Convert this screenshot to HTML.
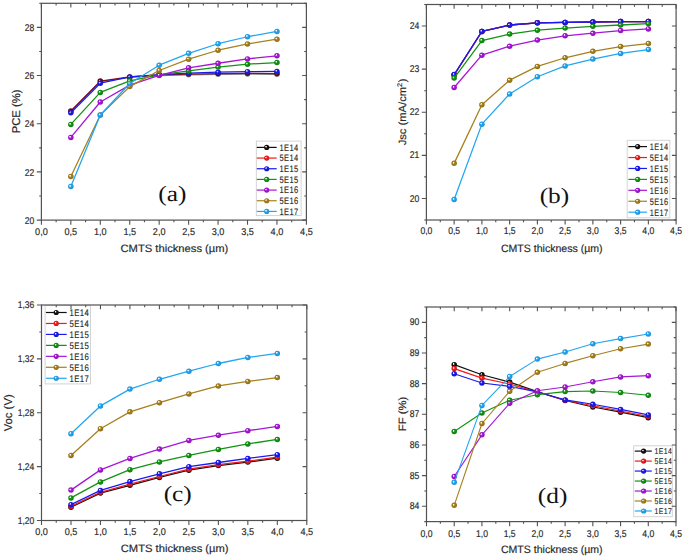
<!DOCTYPE html><html><head><meta charset="utf-8"><title>CMTS thickness plots</title><style>html,body{margin:0;padding:0;background:#fff;}body{width:685px;height:560px;overflow:hidden;}svg{display:block;}text{font-family:"Liberation Sans", sans-serif;text-rendering:geometricPrecision;}.t{stroke:#2a2a2a;stroke-width:0.18px;}</style></head><body><svg width="685" height="560" viewBox="0 0 685 560"><defs><radialGradient id="gk" cx="0.5" cy="0.5" r="0.55" fx="0.34" fy="0.34"><stop offset="0" stop-color="#ffffff" stop-opacity="0.95"/><stop offset="0.12" stop-color="#ffffff" stop-opacity="0.6"/><stop offset="0.38" stop-color="#111111"/><stop offset="1" stop-color="#0e0e0e"/></radialGradient><radialGradient id="gr" cx="0.5" cy="0.5" r="0.55" fx="0.34" fy="0.34"><stop offset="0" stop-color="#ffffff" stop-opacity="0.95"/><stop offset="0.12" stop-color="#ffffff" stop-opacity="0.6"/><stop offset="0.38" stop-color="#f01a1a"/><stop offset="1" stop-color="#cc1616"/></radialGradient><radialGradient id="gb" cx="0.5" cy="0.5" r="0.55" fx="0.34" fy="0.34"><stop offset="0" stop-color="#ffffff" stop-opacity="0.95"/><stop offset="0.12" stop-color="#ffffff" stop-opacity="0.6"/><stop offset="0.38" stop-color="#1a1af0"/><stop offset="1" stop-color="#1616cc"/></radialGradient><radialGradient id="gg" cx="0.5" cy="0.5" r="0.55" fx="0.34" fy="0.34"><stop offset="0" stop-color="#ffffff" stop-opacity="0.95"/><stop offset="0.12" stop-color="#ffffff" stop-opacity="0.6"/><stop offset="0.38" stop-color="#129312"/><stop offset="1" stop-color="#0f7c0f"/></radialGradient><radialGradient id="gm" cx="0.5" cy="0.5" r="0.55" fx="0.34" fy="0.34"><stop offset="0" stop-color="#ffffff" stop-opacity="0.95"/><stop offset="0.12" stop-color="#ffffff" stop-opacity="0.6"/><stop offset="0.38" stop-color="#a616d6"/><stop offset="1" stop-color="#8d12b5"/></radialGradient><radialGradient id="gy" cx="0.5" cy="0.5" r="0.55" fx="0.34" fy="0.34"><stop offset="0" stop-color="#ffffff" stop-opacity="0.95"/><stop offset="0.12" stop-color="#ffffff" stop-opacity="0.6"/><stop offset="0.38" stop-color="#a6801c"/><stop offset="1" stop-color="#8d6c17"/></radialGradient><radialGradient id="gc" cx="0.5" cy="0.5" r="0.55" fx="0.34" fy="0.34"><stop offset="0" stop-color="#ffffff" stop-opacity="0.95"/><stop offset="0.12" stop-color="#ffffff" stop-opacity="0.6"/><stop offset="0.38" stop-color="#22a6f2"/><stop offset="1" stop-color="#1c8dcd"/></radialGradient><radialGradient id="gR2" cx="0.5" cy="0.5" r="0.55" fx="0.36" fy="0.36"><stop offset="0" stop-color="#ffffff" stop-opacity="0.9"/><stop offset="0.25" stop-color="#b01020"/><stop offset="1" stop-color="#8a0c18"/></radialGradient></defs><rect width="685" height="560" fill="#fff"/><g><polyline points="70.84,110.95 100.29,81.08 129.73,76.98 159.18,74.81 188.62,74.09 218.07,73.61 247.51,73.37 276.96,73.61" fill="none" stroke="#b01020" stroke-width="1.28" stroke-linejoin="round"/><circle cx="70.84" cy="110.95" r="2.75" fill="url(#gR2)"/><circle cx="100.29" cy="81.08" r="2.75" fill="url(#gR2)"/><circle cx="129.73" cy="76.98" r="2.75" fill="url(#gR2)"/><circle cx="159.18" cy="74.81" r="2.75" fill="url(#gR2)"/><circle cx="188.62" cy="74.09" r="2.75" fill="url(#gR2)"/><circle cx="218.07" cy="73.61" r="2.75" fill="url(#gR2)"/><circle cx="247.51" cy="73.37" r="2.75" fill="url(#gR2)"/><circle cx="276.96" cy="73.61" r="2.75" fill="url(#gR2)"/></g><g opacity="0.5"><polyline points="70.84,111.43 100.29,81.56 129.73,77.46 159.18,75.53 188.62,74.81 218.07,74.33 247.51,74.09 276.96,74.33" fill="none" stroke="#111111" stroke-width="1.28" stroke-linejoin="round"/><circle cx="70.84" cy="111.43" r="2.75" fill="url(#gk)"/><circle cx="100.29" cy="81.56" r="2.75" fill="url(#gk)"/><circle cx="129.73" cy="77.46" r="2.75" fill="url(#gk)"/><circle cx="159.18" cy="75.53" r="2.75" fill="url(#gk)"/><circle cx="188.62" cy="74.81" r="2.75" fill="url(#gk)"/><circle cx="218.07" cy="74.33" r="2.75" fill="url(#gk)"/><circle cx="247.51" cy="74.09" r="2.75" fill="url(#gk)"/><circle cx="276.96" cy="74.33" r="2.75" fill="url(#gk)"/></g><g><polyline points="70.84,112.87 100.29,83.24 129.73,76.98 159.18,74.57 188.62,73.13 218.07,72.16 247.51,71.68 276.96,71.44" fill="none" stroke="#1a1af0" stroke-width="1.28" stroke-linejoin="round"/><circle cx="70.84" cy="112.87" r="2.75" fill="url(#gb)"/><circle cx="100.29" cy="83.24" r="2.75" fill="url(#gb)"/><circle cx="129.73" cy="76.98" r="2.75" fill="url(#gb)"/><circle cx="159.18" cy="74.57" r="2.75" fill="url(#gb)"/><circle cx="188.62" cy="73.13" r="2.75" fill="url(#gb)"/><circle cx="218.07" cy="72.16" r="2.75" fill="url(#gb)"/><circle cx="247.51" cy="71.68" r="2.75" fill="url(#gb)"/><circle cx="276.96" cy="71.44" r="2.75" fill="url(#gb)"/></g><g><polyline points="70.84,124.44 100.29,92.4 129.73,80.83 159.18,74.81 188.62,70.96 218.07,67.1 247.51,64.21 276.96,62.53" fill="none" stroke="#129312" stroke-width="1.28" stroke-linejoin="round"/><circle cx="70.84" cy="124.44" r="2.75" fill="url(#gg)"/><circle cx="100.29" cy="92.4" r="2.75" fill="url(#gg)"/><circle cx="129.73" cy="80.83" r="2.75" fill="url(#gg)"/><circle cx="159.18" cy="74.81" r="2.75" fill="url(#gg)"/><circle cx="188.62" cy="70.96" r="2.75" fill="url(#gg)"/><circle cx="218.07" cy="67.1" r="2.75" fill="url(#gg)"/><circle cx="247.51" cy="64.21" r="2.75" fill="url(#gg)"/><circle cx="276.96" cy="62.53" r="2.75" fill="url(#gg)"/></g><g><polyline points="70.84,137.44 100.29,102.03 129.73,85.17 159.18,75.29 188.62,67.83 218.07,63.25 247.51,58.91 276.96,55.78" fill="none" stroke="#a616d6" stroke-width="1.28" stroke-linejoin="round"/><circle cx="70.84" cy="137.44" r="2.75" fill="url(#gm)"/><circle cx="100.29" cy="102.03" r="2.75" fill="url(#gm)"/><circle cx="129.73" cy="85.17" r="2.75" fill="url(#gm)"/><circle cx="159.18" cy="75.29" r="2.75" fill="url(#gm)"/><circle cx="188.62" cy="67.83" r="2.75" fill="url(#gm)"/><circle cx="218.07" cy="63.25" r="2.75" fill="url(#gm)"/><circle cx="247.51" cy="58.91" r="2.75" fill="url(#gm)"/><circle cx="276.96" cy="55.78" r="2.75" fill="url(#gm)"/></g><g><polyline points="70.84,176.47 100.29,115.04 129.73,86.62 159.18,70.48 188.62,59.15 218.07,50.24 247.51,43.98 276.96,39.16" fill="none" stroke="#a6801c" stroke-width="1.28" stroke-linejoin="round"/><circle cx="70.84" cy="176.47" r="2.75" fill="url(#gy)"/><circle cx="100.29" cy="115.04" r="2.75" fill="url(#gy)"/><circle cx="129.73" cy="86.62" r="2.75" fill="url(#gy)"/><circle cx="159.18" cy="70.48" r="2.75" fill="url(#gy)"/><circle cx="188.62" cy="59.15" r="2.75" fill="url(#gy)"/><circle cx="218.07" cy="50.24" r="2.75" fill="url(#gy)"/><circle cx="247.51" cy="43.98" r="2.75" fill="url(#gy)"/><circle cx="276.96" cy="39.16" r="2.75" fill="url(#gy)"/></g><g><polyline points="70.84,186.58 100.29,115.04 129.73,83.48 159.18,65.18 188.62,53.37 218.07,43.74 247.51,36.75 276.96,31.45" fill="none" stroke="#22a6f2" stroke-width="1.28" stroke-linejoin="round"/><circle cx="70.84" cy="186.58" r="2.75" fill="url(#gc)"/><circle cx="100.29" cy="115.04" r="2.75" fill="url(#gc)"/><circle cx="129.73" cy="83.48" r="2.75" fill="url(#gc)"/><circle cx="159.18" cy="65.18" r="2.75" fill="url(#gc)"/><circle cx="188.62" cy="53.37" r="2.75" fill="url(#gc)"/><circle cx="218.07" cy="43.74" r="2.75" fill="url(#gc)"/><circle cx="247.51" cy="36.75" r="2.75" fill="url(#gc)"/><circle cx="276.96" cy="31.45" r="2.75" fill="url(#gc)"/></g><rect x="256.3" y="141.1" width="44.8" height="74.5" fill="#fff" stroke="#cfcfcf" stroke-width="0.9"/><line x1="256.8" y1="147.4" x2="276.7" y2="147.4" stroke="#111111" stroke-width="1.2"/><circle cx="266.7" cy="147.4" r="2.6" fill="url(#gk)"/><text x="0" y="0" font-size="9.5" fill="#2a2a2a" stroke="#2a2a2a" stroke-width="0.15" letter-spacing="0.55" transform="translate(279.4 150.72) scale(0.7905 1)">1E14</text><line x1="256.8" y1="158.07" x2="276.7" y2="158.07" stroke="#f01a1a" stroke-width="1.2"/><circle cx="266.7" cy="158.07" r="2.6" fill="url(#gr)"/><text x="0" y="0" font-size="9.5" fill="#2a2a2a" stroke="#2a2a2a" stroke-width="0.15" letter-spacing="0.55" transform="translate(279.4 161.39) scale(0.7905 1)">5E14</text><line x1="256.8" y1="168.74" x2="276.7" y2="168.74" stroke="#1a1af0" stroke-width="1.2"/><circle cx="266.7" cy="168.74" r="2.6" fill="url(#gb)"/><text x="0" y="0" font-size="9.5" fill="#2a2a2a" stroke="#2a2a2a" stroke-width="0.15" letter-spacing="0.55" transform="translate(279.4 172.06) scale(0.7905 1)">1E15</text><line x1="256.8" y1="179.41" x2="276.7" y2="179.41" stroke="#129312" stroke-width="1.2"/><circle cx="266.7" cy="179.41" r="2.6" fill="url(#gg)"/><text x="0" y="0" font-size="9.5" fill="#2a2a2a" stroke="#2a2a2a" stroke-width="0.15" letter-spacing="0.55" transform="translate(279.4 182.73) scale(0.7905 1)">5E15</text><line x1="256.8" y1="190.08" x2="276.7" y2="190.08" stroke="#a616d6" stroke-width="1.2"/><circle cx="266.7" cy="190.08" r="2.6" fill="url(#gm)"/><text x="0" y="0" font-size="9.5" fill="#2a2a2a" stroke="#2a2a2a" stroke-width="0.15" letter-spacing="0.55" transform="translate(279.4 193.41) scale(0.7905 1)">1E16</text><line x1="256.8" y1="200.75" x2="276.7" y2="200.75" stroke="#a6801c" stroke-width="1.2"/><circle cx="266.7" cy="200.75" r="2.6" fill="url(#gy)"/><text x="0" y="0" font-size="9.5" fill="#2a2a2a" stroke="#2a2a2a" stroke-width="0.15" letter-spacing="0.55" transform="translate(279.4 204.07) scale(0.7905 1)">5E16</text><line x1="256.8" y1="211.42" x2="276.7" y2="211.42" stroke="#22a6f2" stroke-width="1.2"/><circle cx="266.7" cy="211.42" r="2.6" fill="url(#gc)"/><text x="0" y="0" font-size="9.5" fill="#2a2a2a" stroke="#2a2a2a" stroke-width="0.15" letter-spacing="0.55" transform="translate(279.4 214.75) scale(0.7905 1)">1E17</text><rect x="41.4" y="3.3" width="265" height="216.8" fill="none" stroke="#525252" stroke-width="1.2"/><path d="M41.4 220.1v4.6M41.4 3.3v4.2M70.84 220.1v4.6M70.84 3.3v4.2M100.29 220.1v4.6M100.29 3.3v4.2M129.73 220.1v4.6M129.73 3.3v4.2M159.18 220.1v4.6M159.18 3.3v4.2M188.62 220.1v4.6M188.62 3.3v4.2M218.07 220.1v4.6M218.07 3.3v4.2M247.51 220.1v4.6M247.51 3.3v4.2M276.96 220.1v4.6M276.96 3.3v4.2M306.4 220.1v4.6M306.4 3.3v4.2M56.12 220.1v2.2M56.12 3.3v2.2M85.57 220.1v2.2M85.57 3.3v2.2M115.01 220.1v2.2M115.01 3.3v2.2M144.46 220.1v2.2M144.46 3.3v2.2M173.9 220.1v2.2M173.9 3.3v2.2M203.34 220.1v2.2M203.34 3.3v2.2M232.79 220.1v2.2M232.79 3.3v2.2M262.23 220.1v2.2M262.23 3.3v2.2M291.68 220.1v2.2M291.68 3.3v2.2M41.4 220.1h-4.6M306.4 220.1h-4.2M41.4 171.92h-4.6M306.4 171.92h-4.2M41.4 123.74h-4.6M306.4 123.74h-4.2M41.4 75.57h-4.6M306.4 75.57h-4.2M41.4 27.39h-4.6M306.4 27.39h-4.2M41.4 196.01h-2.2M306.4 196.01h-2.2M41.4 147.83h-2.2M306.4 147.83h-2.2M41.4 99.66h-2.2M306.4 99.66h-2.2M41.4 51.48h-2.2M306.4 51.48h-2.2M41.4 3.3h-2.2M306.4 3.3h-2.2" stroke="#525252" stroke-width="1.1" fill="none"/><text class="t" x="0" y="234.7" font-size="9.8" fill="#2a2a2a" text-anchor="middle" transform="translate(41.4 0) scale(0.93 1)">0,0</text><text class="t" x="0" y="234.7" font-size="9.8" fill="#2a2a2a" text-anchor="middle" transform="translate(70.84 0) scale(0.93 1)">0,5</text><text class="t" x="0" y="234.7" font-size="9.8" fill="#2a2a2a" text-anchor="middle" transform="translate(100.29 0) scale(0.93 1)">1,0</text><text class="t" x="0" y="234.7" font-size="9.8" fill="#2a2a2a" text-anchor="middle" transform="translate(129.73 0) scale(0.93 1)">1,5</text><text class="t" x="0" y="234.7" font-size="9.8" fill="#2a2a2a" text-anchor="middle" transform="translate(159.18 0) scale(0.93 1)">2,0</text><text class="t" x="0" y="234.7" font-size="9.8" fill="#2a2a2a" text-anchor="middle" transform="translate(188.62 0) scale(0.93 1)">2,5</text><text class="t" x="0" y="234.7" font-size="9.8" fill="#2a2a2a" text-anchor="middle" transform="translate(218.07 0) scale(0.93 1)">3,0</text><text class="t" x="0" y="234.7" font-size="9.8" fill="#2a2a2a" text-anchor="middle" transform="translate(247.51 0) scale(0.93 1)">3,5</text><text class="t" x="0" y="234.7" font-size="9.8" fill="#2a2a2a" text-anchor="middle" transform="translate(276.96 0) scale(0.93 1)">4,0</text><text class="t" x="0" y="234.7" font-size="9.8" fill="#2a2a2a" text-anchor="middle" transform="translate(306.4 0) scale(0.93 1)">4,5</text><text class="t" x="0" y="223.7" font-size="9.8" fill="#2a2a2a" text-anchor="end" transform="translate(34.3 0) scale(0.875 1)">20</text><text class="t" x="0" y="175.52" font-size="9.8" fill="#2a2a2a" text-anchor="end" transform="translate(34.3 0) scale(0.875 1)">22</text><text class="t" x="0" y="127.34" font-size="9.8" fill="#2a2a2a" text-anchor="end" transform="translate(34.3 0) scale(0.875 1)">24</text><text class="t" x="0" y="79.17" font-size="9.8" fill="#2a2a2a" text-anchor="end" transform="translate(34.3 0) scale(0.875 1)">26</text><text class="t" x="0" y="30.99" font-size="9.8" fill="#2a2a2a" text-anchor="end" transform="translate(34.3 0) scale(0.875 1)">28</text><text class="t" x="0" y="252.1" font-size="10.7" fill="#2a2a2a" text-anchor="middle" transform="translate(174.4 0) scale(1.0473 1)">CMTS thickness (µm)</text><text class="t" x="0" y="0" font-size="11.3" fill="#2a2a2a" text-anchor="middle" transform="translate(20.1 111.4) scale(1.0 1) rotate(-90)">PCE (%)</text><text x="0" y="0" font-size="22" fill="#111" text-anchor="middle" style="font-family:'Liberation Serif', serif" transform="translate(172.4 201) scale(1.15 1)">(a)</text><g><polyline points="454.14,75 481.89,31.47 509.63,25.01 537.38,22.85 565.12,22.42 592.87,21.99 620.61,21.56 648.36,21.56" fill="none" stroke="#111111" stroke-width="1.28" stroke-linejoin="round"/><circle cx="454.14" cy="75" r="2.75" fill="url(#gk)"/><circle cx="481.89" cy="31.47" r="2.75" fill="url(#gk)"/><circle cx="509.63" cy="25.01" r="2.75" fill="url(#gk)"/><circle cx="537.38" cy="22.85" r="2.75" fill="url(#gk)"/><circle cx="565.12" cy="22.42" r="2.75" fill="url(#gk)"/><circle cx="592.87" cy="21.99" r="2.75" fill="url(#gk)"/><circle cx="620.61" cy="21.56" r="2.75" fill="url(#gk)"/><circle cx="648.36" cy="21.56" r="2.75" fill="url(#gk)"/></g><g><polyline points="454.14,75 481.89,31.47 509.63,25.01 537.38,22.85 565.12,22.42 592.87,21.99 620.61,21.56 648.36,21.56" fill="none" stroke="#f01a1a" stroke-width="1.28" stroke-linejoin="round"/><circle cx="454.14" cy="75" r="2.75" fill="url(#gr)"/><circle cx="481.89" cy="31.47" r="2.75" fill="url(#gr)"/><circle cx="509.63" cy="25.01" r="2.75" fill="url(#gr)"/><circle cx="537.38" cy="22.85" r="2.75" fill="url(#gr)"/><circle cx="565.12" cy="22.42" r="2.75" fill="url(#gr)"/><circle cx="592.87" cy="21.99" r="2.75" fill="url(#gr)"/><circle cx="620.61" cy="21.56" r="2.75" fill="url(#gr)"/><circle cx="648.36" cy="21.56" r="2.75" fill="url(#gr)"/></g><g><polyline points="454.14,74.57 481.89,31.47 509.63,25.01 537.38,22.85 565.12,22.42 592.87,21.99 620.61,21.56 648.36,21.56" fill="none" stroke="#1a1af0" stroke-width="1.28" stroke-linejoin="round"/><circle cx="454.14" cy="74.57" r="2.75" fill="url(#gb)"/><circle cx="481.89" cy="31.47" r="2.75" fill="url(#gb)"/><circle cx="509.63" cy="25.01" r="2.75" fill="url(#gb)"/><circle cx="537.38" cy="22.85" r="2.75" fill="url(#gb)"/><circle cx="565.12" cy="22.42" r="2.75" fill="url(#gb)"/><circle cx="592.87" cy="21.99" r="2.75" fill="url(#gb)"/><circle cx="620.61" cy="21.56" r="2.75" fill="url(#gb)"/><circle cx="648.36" cy="21.56" r="2.75" fill="url(#gb)"/></g><g><polyline points="454.14,78.02 481.89,40.52 509.63,34.06 537.38,30.18 565.12,28.02 592.87,26.3 620.61,25.01 648.36,23.71" fill="none" stroke="#129312" stroke-width="1.28" stroke-linejoin="round"/><circle cx="454.14" cy="78.02" r="2.75" fill="url(#gg)"/><circle cx="481.89" cy="40.52" r="2.75" fill="url(#gg)"/><circle cx="509.63" cy="34.06" r="2.75" fill="url(#gg)"/><circle cx="537.38" cy="30.18" r="2.75" fill="url(#gg)"/><circle cx="565.12" cy="28.02" r="2.75" fill="url(#gg)"/><circle cx="592.87" cy="26.3" r="2.75" fill="url(#gg)"/><circle cx="620.61" cy="25.01" r="2.75" fill="url(#gg)"/><circle cx="648.36" cy="23.71" r="2.75" fill="url(#gg)"/></g><g><polyline points="454.14,87.5 481.89,55.18 509.63,46.13 537.38,40.09 565.12,35.78 592.87,33.2 620.61,30.61 648.36,28.89" fill="none" stroke="#a616d6" stroke-width="1.28" stroke-linejoin="round"/><circle cx="454.14" cy="87.5" r="2.75" fill="url(#gm)"/><circle cx="481.89" cy="55.18" r="2.75" fill="url(#gm)"/><circle cx="509.63" cy="46.13" r="2.75" fill="url(#gm)"/><circle cx="537.38" cy="40.09" r="2.75" fill="url(#gm)"/><circle cx="565.12" cy="35.78" r="2.75" fill="url(#gm)"/><circle cx="592.87" cy="33.2" r="2.75" fill="url(#gm)"/><circle cx="620.61" cy="30.61" r="2.75" fill="url(#gm)"/><circle cx="648.36" cy="28.89" r="2.75" fill="url(#gm)"/></g><g><polyline points="454.14,163.36 481.89,104.74 509.63,80.18 537.38,66.38 565.12,57.76 592.87,51.3 620.61,46.56 648.36,43.54" fill="none" stroke="#a6801c" stroke-width="1.28" stroke-linejoin="round"/><circle cx="454.14" cy="163.36" r="2.75" fill="url(#gy)"/><circle cx="481.89" cy="104.74" r="2.75" fill="url(#gy)"/><circle cx="509.63" cy="80.18" r="2.75" fill="url(#gy)"/><circle cx="537.38" cy="66.38" r="2.75" fill="url(#gy)"/><circle cx="565.12" cy="57.76" r="2.75" fill="url(#gy)"/><circle cx="592.87" cy="51.3" r="2.75" fill="url(#gy)"/><circle cx="620.61" cy="46.56" r="2.75" fill="url(#gy)"/><circle cx="648.36" cy="43.54" r="2.75" fill="url(#gy)"/></g><g><polyline points="454.14,199.56 481.89,124.14 509.63,93.97 537.38,76.73 565.12,65.95 592.87,59.06 620.61,53.45 648.36,49.57" fill="none" stroke="#22a6f2" stroke-width="1.28" stroke-linejoin="round"/><circle cx="454.14" cy="199.56" r="2.75" fill="url(#gc)"/><circle cx="481.89" cy="124.14" r="2.75" fill="url(#gc)"/><circle cx="509.63" cy="93.97" r="2.75" fill="url(#gc)"/><circle cx="537.38" cy="76.73" r="2.75" fill="url(#gc)"/><circle cx="565.12" cy="65.95" r="2.75" fill="url(#gc)"/><circle cx="592.87" cy="59.06" r="2.75" fill="url(#gc)"/><circle cx="620.61" cy="53.45" r="2.75" fill="url(#gc)"/><circle cx="648.36" cy="49.57" r="2.75" fill="url(#gc)"/></g><rect x="627.2" y="140.3" width="42.6" height="77.5" fill="#fff" stroke="#cfcfcf" stroke-width="0.9"/><line x1="628.4" y1="146.6" x2="647" y2="146.6" stroke="#111111" stroke-width="1.2"/><circle cx="637.7" cy="146.6" r="2.6" fill="url(#gk)"/><text x="0" y="0" font-size="9.5" fill="#2a2a2a" stroke="#2a2a2a" stroke-width="0.15" letter-spacing="0.55" transform="translate(649.8 149.92) scale(0.7719 1)">1E14</text><line x1="628.4" y1="157.53" x2="647" y2="157.53" stroke="#f01a1a" stroke-width="1.2"/><circle cx="637.7" cy="157.53" r="2.6" fill="url(#gr)"/><text x="0" y="0" font-size="9.5" fill="#2a2a2a" stroke="#2a2a2a" stroke-width="0.15" letter-spacing="0.55" transform="translate(649.8 160.85) scale(0.7719 1)">5E14</text><line x1="628.4" y1="168.46" x2="647" y2="168.46" stroke="#1a1af0" stroke-width="1.2"/><circle cx="637.7" cy="168.46" r="2.6" fill="url(#gb)"/><text x="0" y="0" font-size="9.5" fill="#2a2a2a" stroke="#2a2a2a" stroke-width="0.15" letter-spacing="0.55" transform="translate(649.8 171.78) scale(0.7719 1)">1E15</text><line x1="628.4" y1="179.39" x2="647" y2="179.39" stroke="#129312" stroke-width="1.2"/><circle cx="637.7" cy="179.39" r="2.6" fill="url(#gg)"/><text x="0" y="0" font-size="9.5" fill="#2a2a2a" stroke="#2a2a2a" stroke-width="0.15" letter-spacing="0.55" transform="translate(649.8 182.71) scale(0.7719 1)">5E15</text><line x1="628.4" y1="190.32" x2="647" y2="190.32" stroke="#a616d6" stroke-width="1.2"/><circle cx="637.7" cy="190.32" r="2.6" fill="url(#gm)"/><text x="0" y="0" font-size="9.5" fill="#2a2a2a" stroke="#2a2a2a" stroke-width="0.15" letter-spacing="0.55" transform="translate(649.8 193.64) scale(0.7719 1)">1E16</text><line x1="628.4" y1="201.25" x2="647" y2="201.25" stroke="#a6801c" stroke-width="1.2"/><circle cx="637.7" cy="201.25" r="2.6" fill="url(#gy)"/><text x="0" y="0" font-size="9.5" fill="#2a2a2a" stroke="#2a2a2a" stroke-width="0.15" letter-spacing="0.55" transform="translate(649.8 204.57) scale(0.7719 1)">5E16</text><line x1="628.4" y1="212.18" x2="647" y2="212.18" stroke="#22a6f2" stroke-width="1.2"/><circle cx="637.7" cy="212.18" r="2.6" fill="url(#gc)"/><text x="0" y="0" font-size="9.5" fill="#2a2a2a" stroke="#2a2a2a" stroke-width="0.15" letter-spacing="0.55" transform="translate(649.8 215.5) scale(0.7719 1)">1E17</text><rect x="426.4" y="4.5" width="249.7" height="215.5" fill="none" stroke="#525252" stroke-width="1.2"/><path d="M426.4 220v4.6M426.4 4.5v4.2M454.14 220v4.6M454.14 4.5v4.2M481.89 220v4.6M481.89 4.5v4.2M509.63 220v4.6M509.63 4.5v4.2M537.38 220v4.6M537.38 4.5v4.2M565.12 220v4.6M565.12 4.5v4.2M592.87 220v4.6M592.87 4.5v4.2M620.61 220v4.6M620.61 4.5v4.2M648.36 220v4.6M648.36 4.5v4.2M676.1 220v4.6M676.1 4.5v4.2M440.27 220v2.2M440.27 4.5v2.2M468.02 220v2.2M468.02 4.5v2.2M495.76 220v2.2M495.76 4.5v2.2M523.51 220v2.2M523.51 4.5v2.2M551.25 220v2.2M551.25 4.5v2.2M578.99 220v2.2M578.99 4.5v2.2M606.74 220v2.2M606.74 4.5v2.2M634.48 220v2.2M634.48 4.5v2.2M662.23 220v2.2M662.23 4.5v2.2M426.4 198.45h-4.6M676.1 198.45h-4.2M426.4 155.35h-4.6M676.1 155.35h-4.2M426.4 112.25h-4.6M676.1 112.25h-4.2M426.4 69.15h-4.6M676.1 69.15h-4.2M426.4 26.05h-4.6M676.1 26.05h-4.2M426.4 220h-2.2M676.1 220h-2.2M426.4 176.9h-2.2M676.1 176.9h-2.2M426.4 133.8h-2.2M676.1 133.8h-2.2M426.4 90.7h-2.2M676.1 90.7h-2.2M426.4 47.6h-2.2M676.1 47.6h-2.2M426.4 4.5h-2.2M676.1 4.5h-2.2" stroke="#525252" stroke-width="1.1" fill="none"/><text class="t" x="0" y="234.1" font-size="9.8" fill="#2a2a2a" text-anchor="middle" transform="translate(426.4 0) scale(0.88 1)">0,0</text><text class="t" x="0" y="234.1" font-size="9.8" fill="#2a2a2a" text-anchor="middle" transform="translate(454.14 0) scale(0.88 1)">0,5</text><text class="t" x="0" y="234.1" font-size="9.8" fill="#2a2a2a" text-anchor="middle" transform="translate(481.89 0) scale(0.88 1)">1,0</text><text class="t" x="0" y="234.1" font-size="9.8" fill="#2a2a2a" text-anchor="middle" transform="translate(509.63 0) scale(0.88 1)">1,5</text><text class="t" x="0" y="234.1" font-size="9.8" fill="#2a2a2a" text-anchor="middle" transform="translate(537.38 0) scale(0.88 1)">2,0</text><text class="t" x="0" y="234.1" font-size="9.8" fill="#2a2a2a" text-anchor="middle" transform="translate(565.12 0) scale(0.88 1)">2,5</text><text class="t" x="0" y="234.1" font-size="9.8" fill="#2a2a2a" text-anchor="middle" transform="translate(592.87 0) scale(0.88 1)">3,0</text><text class="t" x="0" y="234.1" font-size="9.8" fill="#2a2a2a" text-anchor="middle" transform="translate(620.61 0) scale(0.88 1)">3,5</text><text class="t" x="0" y="234.1" font-size="9.8" fill="#2a2a2a" text-anchor="middle" transform="translate(648.36 0) scale(0.88 1)">4,0</text><text class="t" x="0" y="234.1" font-size="9.8" fill="#2a2a2a" text-anchor="middle" transform="translate(676.1 0) scale(0.88 1)">4,5</text><text class="t" x="0" y="201.55" font-size="9.8" fill="#2a2a2a" text-anchor="end" transform="translate(419.3 0) scale(0.88 1)">20</text><text class="t" x="0" y="158.45" font-size="9.8" fill="#2a2a2a" text-anchor="end" transform="translate(419.3 0) scale(0.88 1)">21</text><text class="t" x="0" y="115.35" font-size="9.8" fill="#2a2a2a" text-anchor="end" transform="translate(419.3 0) scale(0.88 1)">22</text><text class="t" x="0" y="72.25" font-size="9.8" fill="#2a2a2a" text-anchor="end" transform="translate(419.3 0) scale(0.88 1)">23</text><text class="t" x="0" y="29.15" font-size="9.8" fill="#2a2a2a" text-anchor="end" transform="translate(419.3 0) scale(0.88 1)">24</text><text class="t" x="0" y="251.6" font-size="10.7" fill="#2a2a2a" text-anchor="middle" transform="translate(551.75 0) scale(0.988 1)">CMTS thickness (µm)</text><text class="t" x="0" y="0" font-size="11.2" fill="#2a2a2a" text-anchor="middle" transform="translate(405.8 111.9) scale(0.94 1) rotate(-90)">Jsc (mA/cm<tspan font-size="7.2" dy="-4.3">2</tspan><tspan dy="4.3" dx="0.8">)</tspan></text><text x="0" y="0" font-size="22" fill="#111" text-anchor="middle" style="font-family:'Liberation Serif', serif" transform="translate(554.4 203) scale(1.15 1)">(b)</text><g><polyline points="70.98,507.21 100.46,493.07 129.93,485.26 159.41,477.45 188.89,470.17 218.37,465.59 247.84,462.09 277.32,458.19" fill="none" stroke="#111111" stroke-width="1.28" stroke-linejoin="round"/><circle cx="70.98" cy="507.21" r="2.75" fill="url(#gk)"/><circle cx="100.46" cy="493.07" r="2.75" fill="url(#gk)"/><circle cx="129.93" cy="485.26" r="2.75" fill="url(#gk)"/><circle cx="159.41" cy="477.45" r="2.75" fill="url(#gk)"/><circle cx="188.89" cy="470.17" r="2.75" fill="url(#gk)"/><circle cx="218.37" cy="465.59" r="2.75" fill="url(#gk)"/><circle cx="247.84" cy="462.09" r="2.75" fill="url(#gk)"/><circle cx="277.32" cy="458.19" r="2.75" fill="url(#gk)"/></g><g><polyline points="70.98,506.4 100.46,492.26 129.93,484.05 159.41,476.5 188.89,469.23 218.37,464.65 247.84,461.15 277.32,457.24" fill="none" stroke="#f01a1a" stroke-width="1.28" stroke-linejoin="round"/><circle cx="70.98" cy="506.4" r="2.75" fill="url(#gr)"/><circle cx="100.46" cy="492.26" r="2.75" fill="url(#gr)"/><circle cx="129.93" cy="484.05" r="2.75" fill="url(#gr)"/><circle cx="159.41" cy="476.5" r="2.75" fill="url(#gr)"/><circle cx="188.89" cy="469.23" r="2.75" fill="url(#gr)"/><circle cx="218.37" cy="464.65" r="2.75" fill="url(#gr)"/><circle cx="247.84" cy="461.15" r="2.75" fill="url(#gr)"/><circle cx="277.32" cy="457.24" r="2.75" fill="url(#gr)"/></g><g><polyline points="70.98,504.65 100.46,490.38 129.93,481.62 159.41,473.81 188.89,466.67 218.37,462.5 247.84,458.46 277.32,454.68" fill="none" stroke="#1a1af0" stroke-width="1.28" stroke-linejoin="round"/><circle cx="70.98" cy="504.65" r="2.75" fill="url(#gb)"/><circle cx="100.46" cy="490.38" r="2.75" fill="url(#gb)"/><circle cx="129.93" cy="481.62" r="2.75" fill="url(#gb)"/><circle cx="159.41" cy="473.81" r="2.75" fill="url(#gb)"/><circle cx="188.89" cy="466.67" r="2.75" fill="url(#gb)"/><circle cx="218.37" cy="462.5" r="2.75" fill="url(#gb)"/><circle cx="247.84" cy="458.46" r="2.75" fill="url(#gb)"/><circle cx="277.32" cy="454.68" r="2.75" fill="url(#gb)"/></g><g><polyline points="70.98,497.92 100.46,481.89 129.93,469.63 159.41,461.96 188.89,455.49 218.37,449.43 247.84,443.91 277.32,439.46" fill="none" stroke="#129312" stroke-width="1.28" stroke-linejoin="round"/><circle cx="70.98" cy="497.92" r="2.75" fill="url(#gg)"/><circle cx="100.46" cy="481.89" r="2.75" fill="url(#gg)"/><circle cx="129.93" cy="469.63" r="2.75" fill="url(#gg)"/><circle cx="159.41" cy="461.96" r="2.75" fill="url(#gg)"/><circle cx="188.89" cy="455.49" r="2.75" fill="url(#gg)"/><circle cx="218.37" cy="449.43" r="2.75" fill="url(#gg)"/><circle cx="247.84" cy="443.91" r="2.75" fill="url(#gg)"/><circle cx="277.32" cy="439.46" r="2.75" fill="url(#gg)"/></g><g><polyline points="70.98,490.11 100.46,469.9 129.93,458.46 159.41,449.03 188.89,440.41 218.37,435.15 247.84,430.71 277.32,426.4" fill="none" stroke="#a616d6" stroke-width="1.28" stroke-linejoin="round"/><circle cx="70.98" cy="490.11" r="2.75" fill="url(#gm)"/><circle cx="100.46" cy="469.9" r="2.75" fill="url(#gm)"/><circle cx="129.93" cy="458.46" r="2.75" fill="url(#gm)"/><circle cx="159.41" cy="449.03" r="2.75" fill="url(#gm)"/><circle cx="188.89" cy="440.41" r="2.75" fill="url(#gm)"/><circle cx="218.37" cy="435.15" r="2.75" fill="url(#gm)"/><circle cx="247.84" cy="430.71" r="2.75" fill="url(#gm)"/><circle cx="277.32" cy="426.4" r="2.75" fill="url(#gm)"/></g><g><polyline points="70.98,455.49 100.46,428.69 129.93,411.85 159.41,402.69 188.89,393.94 218.37,385.99 247.84,381.41 277.32,377.51" fill="none" stroke="#a6801c" stroke-width="1.28" stroke-linejoin="round"/><circle cx="70.98" cy="455.49" r="2.75" fill="url(#gy)"/><circle cx="100.46" cy="428.69" r="2.75" fill="url(#gy)"/><circle cx="129.93" cy="411.85" r="2.75" fill="url(#gy)"/><circle cx="159.41" cy="402.69" r="2.75" fill="url(#gy)"/><circle cx="188.89" cy="393.94" r="2.75" fill="url(#gy)"/><circle cx="218.37" cy="385.99" r="2.75" fill="url(#gy)"/><circle cx="247.84" cy="381.41" r="2.75" fill="url(#gy)"/><circle cx="277.32" cy="377.51" r="2.75" fill="url(#gy)"/></g><g><polyline points="70.98,433.67 100.46,405.93 129.93,389.09 159.41,379.26 188.89,371.18 218.37,363.5 247.84,357.44 277.32,353.4" fill="none" stroke="#22a6f2" stroke-width="1.28" stroke-linejoin="round"/><circle cx="70.98" cy="433.67" r="2.75" fill="url(#gc)"/><circle cx="100.46" cy="405.93" r="2.75" fill="url(#gc)"/><circle cx="129.93" cy="389.09" r="2.75" fill="url(#gc)"/><circle cx="159.41" cy="379.26" r="2.75" fill="url(#gc)"/><circle cx="188.89" cy="371.18" r="2.75" fill="url(#gc)"/><circle cx="218.37" cy="363.5" r="2.75" fill="url(#gc)"/><circle cx="247.84" cy="357.44" r="2.75" fill="url(#gc)"/><circle cx="277.32" cy="353.4" r="2.75" fill="url(#gc)"/></g><rect x="45.1" y="305.6" width="45.4" height="78.3" fill="#fff" stroke="#cfcfcf" stroke-width="0.9"/><line x1="45.9" y1="312.5" x2="66.7" y2="312.5" stroke="#111111" stroke-width="1.2"/><circle cx="56.2" cy="312.5" r="2.6" fill="url(#gk)"/><text x="0" y="0" font-size="9.6" fill="#2a2a2a" stroke="#2a2a2a" stroke-width="0.15" letter-spacing="0.55" transform="translate(69.4 315.86) scale(0.8091 1)">1E14</text><line x1="45.9" y1="323.46" x2="66.7" y2="323.46" stroke="#f01a1a" stroke-width="1.2"/><circle cx="56.2" cy="323.46" r="2.6" fill="url(#gr)"/><text x="0" y="0" font-size="9.6" fill="#2a2a2a" stroke="#2a2a2a" stroke-width="0.15" letter-spacing="0.55" transform="translate(69.4 326.82) scale(0.8091 1)">5E14</text><line x1="45.9" y1="334.42" x2="66.7" y2="334.42" stroke="#1a1af0" stroke-width="1.2"/><circle cx="56.2" cy="334.42" r="2.6" fill="url(#gb)"/><text x="0" y="0" font-size="9.6" fill="#2a2a2a" stroke="#2a2a2a" stroke-width="0.15" letter-spacing="0.55" transform="translate(69.4 337.78) scale(0.8091 1)">1E15</text><line x1="45.9" y1="345.38" x2="66.7" y2="345.38" stroke="#129312" stroke-width="1.2"/><circle cx="56.2" cy="345.38" r="2.6" fill="url(#gg)"/><text x="0" y="0" font-size="9.6" fill="#2a2a2a" stroke="#2a2a2a" stroke-width="0.15" letter-spacing="0.55" transform="translate(69.4 348.74) scale(0.8091 1)">5E15</text><line x1="45.9" y1="356.34" x2="66.7" y2="356.34" stroke="#a616d6" stroke-width="1.2"/><circle cx="56.2" cy="356.34" r="2.6" fill="url(#gm)"/><text x="0" y="0" font-size="9.6" fill="#2a2a2a" stroke="#2a2a2a" stroke-width="0.15" letter-spacing="0.55" transform="translate(69.4 359.7) scale(0.8091 1)">1E16</text><line x1="45.9" y1="367.3" x2="66.7" y2="367.3" stroke="#a6801c" stroke-width="1.2"/><circle cx="56.2" cy="367.3" r="2.6" fill="url(#gy)"/><text x="0" y="0" font-size="9.6" fill="#2a2a2a" stroke="#2a2a2a" stroke-width="0.15" letter-spacing="0.55" transform="translate(69.4 370.66) scale(0.8091 1)">5E16</text><line x1="45.9" y1="378.26" x2="66.7" y2="378.26" stroke="#22a6f2" stroke-width="1.2"/><circle cx="56.2" cy="378.26" r="2.6" fill="url(#gc)"/><text x="0" y="0" font-size="9.6" fill="#2a2a2a" stroke="#2a2a2a" stroke-width="0.15" letter-spacing="0.55" transform="translate(69.4 381.62) scale(0.8091 1)">1E17</text><rect x="41.5" y="305" width="265.3" height="215.5" fill="none" stroke="#525252" stroke-width="1.2"/><path d="M41.5 520.5v4.6M41.5 305v4.2M70.98 520.5v4.6M70.98 305v4.2M100.46 520.5v4.6M100.46 305v4.2M129.93 520.5v4.6M129.93 305v4.2M159.41 520.5v4.6M159.41 305v4.2M188.89 520.5v4.6M188.89 305v4.2M218.37 520.5v4.6M218.37 305v4.2M247.84 520.5v4.6M247.84 305v4.2M277.32 520.5v4.6M277.32 305v4.2M306.8 520.5v4.6M306.8 305v4.2M56.24 520.5v2.2M56.24 305v2.2M85.72 520.5v2.2M85.72 305v2.2M115.19 520.5v2.2M115.19 305v2.2M144.67 520.5v2.2M144.67 305v2.2M174.15 520.5v2.2M174.15 305v2.2M203.63 520.5v2.2M203.63 305v2.2M233.11 520.5v2.2M233.11 305v2.2M262.58 520.5v2.2M262.58 305v2.2M292.06 520.5v2.2M292.06 305v2.2M41.5 520.5h-4.6M306.8 520.5h-4.2M41.5 466.62h-4.6M306.8 466.62h-4.2M41.5 412.75h-4.6M306.8 412.75h-4.2M41.5 358.88h-4.6M306.8 358.88h-4.2M41.5 305h-4.6M306.8 305h-4.2M41.5 493.56h-2.2M306.8 493.56h-2.2M41.5 439.69h-2.2M306.8 439.69h-2.2M41.5 385.81h-2.2M306.8 385.81h-2.2M41.5 331.94h-2.2M306.8 331.94h-2.2" stroke="#525252" stroke-width="1.1" fill="none"/><text class="t" x="0" y="535.4" font-size="9.8" fill="#2a2a2a" text-anchor="middle" transform="translate(41.5 0) scale(0.93 1)">0,0</text><text class="t" x="0" y="535.4" font-size="9.8" fill="#2a2a2a" text-anchor="middle" transform="translate(70.98 0) scale(0.93 1)">0,5</text><text class="t" x="0" y="535.4" font-size="9.8" fill="#2a2a2a" text-anchor="middle" transform="translate(100.46 0) scale(0.93 1)">1,0</text><text class="t" x="0" y="535.4" font-size="9.8" fill="#2a2a2a" text-anchor="middle" transform="translate(129.93 0) scale(0.93 1)">1,5</text><text class="t" x="0" y="535.4" font-size="9.8" fill="#2a2a2a" text-anchor="middle" transform="translate(159.41 0) scale(0.93 1)">2,0</text><text class="t" x="0" y="535.4" font-size="9.8" fill="#2a2a2a" text-anchor="middle" transform="translate(188.89 0) scale(0.93 1)">2,5</text><text class="t" x="0" y="535.4" font-size="9.8" fill="#2a2a2a" text-anchor="middle" transform="translate(218.37 0) scale(0.93 1)">3,0</text><text class="t" x="0" y="535.4" font-size="9.8" fill="#2a2a2a" text-anchor="middle" transform="translate(247.84 0) scale(0.93 1)">3,5</text><text class="t" x="0" y="535.4" font-size="9.8" fill="#2a2a2a" text-anchor="middle" transform="translate(277.32 0) scale(0.93 1)">4,0</text><text class="t" x="0" y="535.4" font-size="9.8" fill="#2a2a2a" text-anchor="middle" transform="translate(306.8 0) scale(0.93 1)">4,5</text><text class="t" x="0" y="523.6" font-size="9.8" fill="#2a2a2a" text-anchor="end" transform="translate(34.4 0) scale(0.875 1)">1,20</text><text class="t" x="0" y="469.73" font-size="9.8" fill="#2a2a2a" text-anchor="end" transform="translate(34.4 0) scale(0.875 1)">1,24</text><text class="t" x="0" y="415.85" font-size="9.8" fill="#2a2a2a" text-anchor="end" transform="translate(34.4 0) scale(0.875 1)">1,28</text><text class="t" x="0" y="361.98" font-size="9.8" fill="#2a2a2a" text-anchor="end" transform="translate(34.4 0) scale(0.875 1)">1,32</text><text class="t" x="0" y="308.1" font-size="9.8" fill="#2a2a2a" text-anchor="end" transform="translate(34.4 0) scale(0.875 1)">1,36</text><text class="t" x="0" y="552.4" font-size="10.7" fill="#2a2a2a" text-anchor="middle" transform="translate(174.65 0) scale(1.0473 1)">CMTS thickness (µm)</text><text class="t" x="0" y="0" font-size="11.3" fill="#2a2a2a" text-anchor="middle" transform="translate(11.6 412.85) scale(1.0 1) rotate(-90)">Voc (V)</text><text x="0" y="0" font-size="22" fill="#111" text-anchor="middle" style="font-family:'Liberation Serif', serif" transform="translate(177.7 501) scale(1.15 1)">(c)</text><g><polyline points="454.22,364.64 481.94,374.75 509.67,382.11 537.39,391.61 565.11,400.5 592.83,406.94 620.56,412.15 648.28,417.67" fill="none" stroke="#111111" stroke-width="1.12" stroke-linejoin="round"/><circle cx="454.22" cy="364.64" r="2.75" fill="url(#gk)"/><circle cx="481.94" cy="374.75" r="2.75" fill="url(#gk)"/><circle cx="509.67" cy="382.11" r="2.75" fill="url(#gk)"/><circle cx="537.39" cy="391.61" r="2.75" fill="url(#gk)"/><circle cx="565.11" cy="400.5" r="2.75" fill="url(#gk)"/><circle cx="592.83" cy="406.94" r="2.75" fill="url(#gk)"/><circle cx="620.56" cy="412.15" r="2.75" fill="url(#gk)"/><circle cx="648.28" cy="417.67" r="2.75" fill="url(#gk)"/></g><g><polyline points="454.22,368.62 481.94,378.12 509.67,383.95 537.39,391.92 565.11,400.2 592.83,405.72 620.56,410.93 648.28,416.45" fill="none" stroke="#f01a1a" stroke-width="1.12" stroke-linejoin="round"/><circle cx="454.22" cy="368.62" r="2.75" fill="url(#gr)"/><circle cx="481.94" cy="378.12" r="2.75" fill="url(#gr)"/><circle cx="509.67" cy="383.95" r="2.75" fill="url(#gr)"/><circle cx="537.39" cy="391.92" r="2.75" fill="url(#gr)"/><circle cx="565.11" cy="400.2" r="2.75" fill="url(#gr)"/><circle cx="592.83" cy="405.72" r="2.75" fill="url(#gr)"/><circle cx="620.56" cy="410.93" r="2.75" fill="url(#gr)"/><circle cx="648.28" cy="416.45" r="2.75" fill="url(#gr)"/></g><g><polyline points="454.22,373.83 481.94,383.03 509.67,386.4 537.39,391.92 565.11,399.89 592.83,404.18 620.56,409.39 648.28,414.91" fill="none" stroke="#1a1af0" stroke-width="1.12" stroke-linejoin="round"/><circle cx="454.22" cy="373.83" r="2.75" fill="url(#gb)"/><circle cx="481.94" cy="383.03" r="2.75" fill="url(#gb)"/><circle cx="509.67" cy="386.4" r="2.75" fill="url(#gb)"/><circle cx="537.39" cy="391.92" r="2.75" fill="url(#gb)"/><circle cx="565.11" cy="399.89" r="2.75" fill="url(#gb)"/><circle cx="592.83" cy="404.18" r="2.75" fill="url(#gb)"/><circle cx="620.56" cy="409.39" r="2.75" fill="url(#gb)"/><circle cx="648.28" cy="414.91" r="2.75" fill="url(#gb)"/></g><g><polyline points="454.22,431.47 481.94,413.07 509.67,400.2 537.39,394.68 565.11,391.61 592.83,391 620.56,392.53 648.28,395.29" fill="none" stroke="#129312" stroke-width="1.12" stroke-linejoin="round"/><circle cx="454.22" cy="431.47" r="2.75" fill="url(#gg)"/><circle cx="481.94" cy="413.07" r="2.75" fill="url(#gg)"/><circle cx="509.67" cy="400.2" r="2.75" fill="url(#gg)"/><circle cx="537.39" cy="394.68" r="2.75" fill="url(#gg)"/><circle cx="565.11" cy="391.61" r="2.75" fill="url(#gg)"/><circle cx="592.83" cy="391" r="2.75" fill="url(#gg)"/><circle cx="620.56" cy="392.53" r="2.75" fill="url(#gg)"/><circle cx="648.28" cy="395.29" r="2.75" fill="url(#gg)"/></g><g><polyline points="454.22,476.53 481.94,434.84 509.67,403.26 537.39,390.69 565.11,387.02 592.83,381.8 620.56,376.9 648.28,375.67" fill="none" stroke="#a616d6" stroke-width="1.12" stroke-linejoin="round"/><circle cx="454.22" cy="476.53" r="2.75" fill="url(#gm)"/><circle cx="481.94" cy="434.84" r="2.75" fill="url(#gm)"/><circle cx="509.67" cy="403.26" r="2.75" fill="url(#gm)"/><circle cx="537.39" cy="390.69" r="2.75" fill="url(#gm)"/><circle cx="565.11" cy="387.02" r="2.75" fill="url(#gm)"/><circle cx="592.83" cy="381.8" r="2.75" fill="url(#gm)"/><circle cx="620.56" cy="376.9" r="2.75" fill="url(#gm)"/><circle cx="648.28" cy="375.67" r="2.75" fill="url(#gm)"/></g><g><polyline points="454.22,505.35 481.94,423.5 509.67,391.31 537.39,372.3 565.11,363.41 592.83,355.74 620.56,348.69 648.28,344.1" fill="none" stroke="#a6801c" stroke-width="1.12" stroke-linejoin="round"/><circle cx="454.22" cy="505.35" r="2.75" fill="url(#gy)"/><circle cx="481.94" cy="423.5" r="2.75" fill="url(#gy)"/><circle cx="509.67" cy="391.31" r="2.75" fill="url(#gy)"/><circle cx="537.39" cy="372.3" r="2.75" fill="url(#gy)"/><circle cx="565.11" cy="363.41" r="2.75" fill="url(#gy)"/><circle cx="592.83" cy="355.74" r="2.75" fill="url(#gy)"/><circle cx="620.56" cy="348.69" r="2.75" fill="url(#gy)"/><circle cx="648.28" cy="344.1" r="2.75" fill="url(#gy)"/></g><g><polyline points="454.22,482.36 481.94,405.41 509.67,376.59 537.39,359.12 565.11,352.07 592.83,343.79 620.56,338.58 648.28,333.98" fill="none" stroke="#22a6f2" stroke-width="1.12" stroke-linejoin="round"/><circle cx="454.22" cy="482.36" r="2.75" fill="url(#gc)"/><circle cx="481.94" cy="405.41" r="2.75" fill="url(#gc)"/><circle cx="509.67" cy="376.59" r="2.75" fill="url(#gc)"/><circle cx="537.39" cy="359.12" r="2.75" fill="url(#gc)"/><circle cx="565.11" cy="352.07" r="2.75" fill="url(#gc)"/><circle cx="592.83" cy="343.79" r="2.75" fill="url(#gc)"/><circle cx="620.56" cy="338.58" r="2.75" fill="url(#gc)"/><circle cx="648.28" cy="333.98" r="2.75" fill="url(#gc)"/></g><rect x="633.7" y="445.8" width="38.6" height="70.9" fill="#fff" stroke="#cfcfcf" stroke-width="0.9"/><line x1="634.8" y1="451.1" x2="651.8" y2="451.1" stroke="#111111" stroke-width="1.2"/><circle cx="643.6" cy="451.1" r="2.6" fill="url(#gk)"/><text x="0" y="0" font-size="8.2" fill="#2a2a2a" stroke="#2a2a2a" stroke-width="0.15" letter-spacing="0.55" transform="translate(654.4 453.97) scale(0.837 1)">1E14</text><line x1="634.8" y1="461.08" x2="651.8" y2="461.08" stroke="#f01a1a" stroke-width="1.2"/><circle cx="643.6" cy="461.08" r="2.6" fill="url(#gr)"/><text x="0" y="0" font-size="8.2" fill="#2a2a2a" stroke="#2a2a2a" stroke-width="0.15" letter-spacing="0.55" transform="translate(654.4 463.95) scale(0.837 1)">5E14</text><line x1="634.8" y1="471.06" x2="651.8" y2="471.06" stroke="#1a1af0" stroke-width="1.2"/><circle cx="643.6" cy="471.06" r="2.6" fill="url(#gb)"/><text x="0" y="0" font-size="8.2" fill="#2a2a2a" stroke="#2a2a2a" stroke-width="0.15" letter-spacing="0.55" transform="translate(654.4 473.93) scale(0.837 1)">1E15</text><line x1="634.8" y1="481.04" x2="651.8" y2="481.04" stroke="#129312" stroke-width="1.2"/><circle cx="643.6" cy="481.04" r="2.6" fill="url(#gg)"/><text x="0" y="0" font-size="8.2" fill="#2a2a2a" stroke="#2a2a2a" stroke-width="0.15" letter-spacing="0.55" transform="translate(654.4 483.91) scale(0.837 1)">5E15</text><line x1="634.8" y1="491.02" x2="651.8" y2="491.02" stroke="#a616d6" stroke-width="1.2"/><circle cx="643.6" cy="491.02" r="2.6" fill="url(#gm)"/><text x="0" y="0" font-size="8.2" fill="#2a2a2a" stroke="#2a2a2a" stroke-width="0.15" letter-spacing="0.55" transform="translate(654.4 493.89) scale(0.837 1)">1E16</text><line x1="634.8" y1="501" x2="651.8" y2="501" stroke="#a6801c" stroke-width="1.2"/><circle cx="643.6" cy="501" r="2.6" fill="url(#gy)"/><text x="0" y="0" font-size="8.2" fill="#2a2a2a" stroke="#2a2a2a" stroke-width="0.15" letter-spacing="0.55" transform="translate(654.4 503.87) scale(0.837 1)">5E16</text><line x1="634.8" y1="510.98" x2="651.8" y2="510.98" stroke="#22a6f2" stroke-width="1.2"/><circle cx="643.6" cy="510.98" r="2.6" fill="url(#gc)"/><text x="0" y="0" font-size="8.2" fill="#2a2a2a" stroke="#2a2a2a" stroke-width="0.15" letter-spacing="0.55" transform="translate(654.4 513.85) scale(0.837 1)">1E17</text><rect x="426.5" y="307" width="249.5" height="214.6" fill="none" stroke="#525252" stroke-width="1.2"/><path d="M426.5 521.6v4.6M426.5 307v4.2M454.22 521.6v4.6M454.22 307v4.2M481.94 521.6v4.6M481.94 307v4.2M509.67 521.6v4.6M509.67 307v4.2M537.39 521.6v4.6M537.39 307v4.2M565.11 521.6v4.6M565.11 307v4.2M592.83 521.6v4.6M592.83 307v4.2M620.56 521.6v4.6M620.56 307v4.2M648.28 521.6v4.6M648.28 307v4.2M676 521.6v4.6M676 307v4.2M440.36 521.6v2.2M440.36 307v2.2M468.08 521.6v2.2M468.08 307v2.2M495.81 521.6v2.2M495.81 307v2.2M523.53 521.6v2.2M523.53 307v2.2M551.25 521.6v2.2M551.25 307v2.2M578.97 521.6v2.2M578.97 307v2.2M606.69 521.6v2.2M606.69 307v2.2M634.42 521.6v2.2M634.42 307v2.2M662.14 521.6v2.2M662.14 307v2.2M426.5 506.27h-4.6M676 506.27h-4.2M426.5 475.61h-4.6M676 475.61h-4.2M426.5 444.96h-4.6M676 444.96h-4.2M426.5 414.3h-4.6M676 414.3h-4.2M426.5 383.64h-4.6M676 383.64h-4.2M426.5 352.99h-4.6M676 352.99h-4.2M426.5 322.33h-4.6M676 322.33h-4.2M426.5 521.6h-2.2M676 521.6h-2.2M426.5 490.94h-2.2M676 490.94h-2.2M426.5 460.29h-2.2M676 460.29h-2.2M426.5 429.63h-2.2M676 429.63h-2.2M426.5 398.97h-2.2M676 398.97h-2.2M426.5 368.31h-2.2M676 368.31h-2.2M426.5 337.66h-2.2M676 337.66h-2.2M426.5 307h-2.2M676 307h-2.2" stroke="#525252" stroke-width="1.1" fill="none"/><text class="t" x="0" y="536.9" font-size="9.8" fill="#2a2a2a" text-anchor="middle" transform="translate(426.5 0) scale(0.88 1)">0,0</text><text class="t" x="0" y="536.9" font-size="9.8" fill="#2a2a2a" text-anchor="middle" transform="translate(454.22 0) scale(0.88 1)">0,5</text><text class="t" x="0" y="536.9" font-size="9.8" fill="#2a2a2a" text-anchor="middle" transform="translate(481.94 0) scale(0.88 1)">1,0</text><text class="t" x="0" y="536.9" font-size="9.8" fill="#2a2a2a" text-anchor="middle" transform="translate(509.67 0) scale(0.88 1)">1,5</text><text class="t" x="0" y="536.9" font-size="9.8" fill="#2a2a2a" text-anchor="middle" transform="translate(537.39 0) scale(0.88 1)">2,0</text><text class="t" x="0" y="536.9" font-size="9.8" fill="#2a2a2a" text-anchor="middle" transform="translate(565.11 0) scale(0.88 1)">2,5</text><text class="t" x="0" y="536.9" font-size="9.8" fill="#2a2a2a" text-anchor="middle" transform="translate(592.83 0) scale(0.88 1)">3,0</text><text class="t" x="0" y="536.9" font-size="9.8" fill="#2a2a2a" text-anchor="middle" transform="translate(620.56 0) scale(0.88 1)">3,5</text><text class="t" x="0" y="536.9" font-size="9.8" fill="#2a2a2a" text-anchor="middle" transform="translate(648.28 0) scale(0.88 1)">4,0</text><text class="t" x="0" y="536.9" font-size="9.8" fill="#2a2a2a" text-anchor="middle" transform="translate(676 0) scale(0.88 1)">4,5</text><text class="t" x="0" y="509.37" font-size="9.8" fill="#2a2a2a" text-anchor="end" transform="translate(419.4 0) scale(0.88 1)">84</text><text class="t" x="0" y="478.71" font-size="9.8" fill="#2a2a2a" text-anchor="end" transform="translate(419.4 0) scale(0.88 1)">85</text><text class="t" x="0" y="448.06" font-size="9.8" fill="#2a2a2a" text-anchor="end" transform="translate(419.4 0) scale(0.88 1)">86</text><text class="t" x="0" y="417.4" font-size="9.8" fill="#2a2a2a" text-anchor="end" transform="translate(419.4 0) scale(0.88 1)">87</text><text class="t" x="0" y="386.74" font-size="9.8" fill="#2a2a2a" text-anchor="end" transform="translate(419.4 0) scale(0.88 1)">88</text><text class="t" x="0" y="356.09" font-size="9.8" fill="#2a2a2a" text-anchor="end" transform="translate(419.4 0) scale(0.88 1)">89</text><text class="t" x="0" y="325.43" font-size="9.8" fill="#2a2a2a" text-anchor="end" transform="translate(419.4 0) scale(0.88 1)">90</text><text class="t" x="0" y="553.3" font-size="10.7" fill="#2a2a2a" text-anchor="middle" transform="translate(551.75 0) scale(0.988 1)">CMTS thickness (µm)</text><text class="t" x="0" y="0" font-size="11.3" fill="#2a2a2a" text-anchor="middle" transform="translate(405.9 414) scale(0.94 1) rotate(-90)">FF (%)</text><text x="0" y="0" font-size="22" fill="#111" text-anchor="middle" style="font-family:'Liberation Serif', serif" transform="translate(552.6 502.7) scale(1.15 1)">(d)</text></svg></body></html>
